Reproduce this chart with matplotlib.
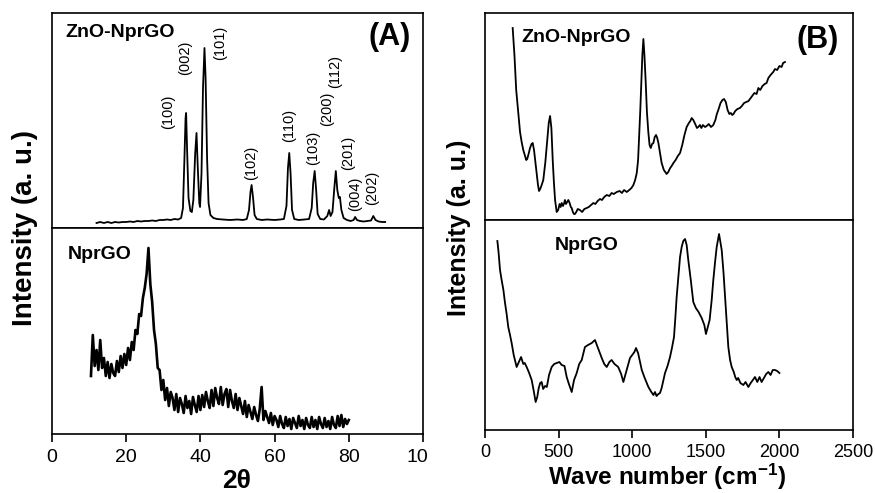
import numpy as np
import matplotlib
matplotlib.use("Agg")
import matplotlib.pyplot as plt
from matplotlib.transforms import Bbox, TransformedBbox

plt.rcParams['font.family'] = ['Liberation Sans', 'DejaVu Sans']
plt.rcParams['mathtext.fontset'] = 'custom'
plt.rcParams['mathtext.rm'] = 'Liberation Sans:bold'
plt.rcParams['mathtext.bf'] = 'Liberation Sans:bold'
plt.rcParams['mathtext.default'] = 'bf'

# ---------------- Panel A: XRD ----------------
xrd_zno_theta = [12, 13, 14, 15, 16, 17, 18, 19, 20, 21, 22, 23, 24, 25, 26, 27, 28, 29, 30, 31, 32, 33, 34,
                 34.8, 35.3, 35.7, 36.0, 36.15, 36.4, 36.8, 37.3, 37.7, 38.1, 38.6, 38.95, 39.3, 39.7, 39.9,
                 40.3, 40.7, 41.1, 41.4, 41.8, 42.2, 42.7, 43.5, 44.5, 46, 48, 50, 51.5, 52.5, 53.1, 53.5,
                 53.8, 54.2, 54.6, 55.2, 56.5, 58, 60, 61.5, 62.5, 63.2, 63.6, 63.95, 64.3, 64.7, 65.3, 66.5,
                 68, 69.3, 70.0, 70.4, 70.8, 71.2, 71.6, 72.3, 73.3, 74.2, 74.7, 75.1, 75.6, 76.1, 76.5, 76.9,
                 77.3, 77.6, 78.0, 78.6, 79.5, 80.5, 81.3, 81.7, 82.2, 83, 84, 85, 86, 86.6, 87.2, 88, 89, 89.8]
xrd_zno_int = [5, 6, 5, 6, 5, 6, 5.5, 6, 6, 6.5, 6, 7, 6.5, 7, 7, 7.5, 7, 8, 8, 8.5, 8, 9, 8.5,
               10, 20, 70, 110, 115, 80, 30, 17, 16, 28, 75, 95, 60, 25, 21,
               55, 140, 180, 150, 70, 25, 13, 10, 9, 8.5, 8, 8.5, 8, 9, 18, 36,
               43, 30, 13, 9, 8, 8.5, 8, 8.5, 9, 22, 60, 75, 55, 18, 9, 8,
               8.5, 9, 20, 45, 57, 38, 14, 9, 8.5, 12, 18, 12, 16, 40, 57, 38,
               30, 31, 18, 10, 8, 7, 8, 11, 8, 7, 6.5, 7, 7.5, 12, 8, 6.5, 6, 6]

hkl_labels = ['(100)', '(002)', '(101)', '(102)', '(110)', '(103)', '(200)', '(112)', '(201)', '(004)', '(202)']
hkl_theta = [31.3, 35.8, 45.3, 53.6, 63.9, 70.3, 74.1, 76.3, 79.8, 81.7, 86.3]
hkl_y = [116, 170, 185.5, 65.5, 103, 80.5, 119, 157, 75, 34, 40]

xrd_go_start, xrd_go_step = 10.5, 0.5
xrd_go_int = [58, 99, 68, 84, 64, 94, 66, 76, 58, 72,
              56, 70, 61, 58, 73, 62, 78, 66, 80, 69,
              86, 74, 92, 84, 104, 100, 120, 118, 136, 146,
              160, 186, 150, 132, 104, 90, 66, 64, 44, 54,
              34, 46, 28, 42, 36, 24, 40, 22, 36, 30,
              21, 38, 26, 33, 20, 37, 29, 22, 38, 24,
              39, 27, 42, 33, 26, 44, 28, 46, 36, 30,
              47, 29, 40, 45, 27, 44, 33, 26, 40, 24,
              36, 28, 20, 33, 17, 29, 22, 15, 27, 19,
              13, 25, 47, 14, 23, 17, 11, 21, 9, 18,
              14, 7, 18, 10, 6, 17, 8, 15, 5, 16,
              11, 6, 18, 8, 14, 5, 16, 9, 6, 17,
              7, 14, 5, 17, 10, 6, 16, 7, 13, 5,
              17, 9, 6, 18, 8, 19, 7, 15, 10, 14]
xrd_go_theta = xrd_go_start + xrd_go_step * np.arange(len(xrd_go_int))

a_ticks = [0, 20, 40, 60, 80, 100]
a_ticklabels = ['0', '20', '40', '60', '80', '100']

# ---------------- Panel B: Raman ----------------
raman_zno_w = [188, 200, 212, 226, 238, 249, 260, 272, 280, 287, 296, 306, 316, 324, 333, 342, 351, 360, 367,
               375, 385, 396, 410, 423, 433, 442, 451, 460, 468, 476, 487, 497, 507, 514, 521, 530, 538, 543,
               550, 558, 566, 575, 583, 589, 597, 604, 611, 620, 630, 645, 660, 675, 691, 705, 720, 736, 750,
               765, 781, 795, 810, 827, 845, 860, 875, 895, 915, 930, 945, 963, 980, 995, 1008, 1020, 1031,
               1040, 1048, 1055, 1062, 1069, 1076, 1083, 1092, 1100, 1110, 1118, 1126, 1135, 1144, 1153, 1162,
               1170, 1178, 1190, 1200, 1215, 1234, 1245, 1258, 1268, 1280, 1295, 1310, 1325, 1340, 1355, 1370,
               1385, 1395, 1404, 1415, 1428, 1440, 1449, 1460, 1470, 1480, 1495, 1506, 1520, 1535, 1551, 1565,
               1575, 1585, 1600, 1613, 1624, 1636, 1648, 1660, 1670, 1680, 1688, 1700, 1715, 1732, 1745, 1760,
               1775, 1790, 1800, 1815, 1830, 1845, 1857, 1870, 1885, 1900, 1913, 1925, 1940, 1958, 1970, 1985,
               2000, 2015, 2025, 2038]
raman_zno_int = [192, 165, 130, 107, 88, 78, 70, 64, 60, 61, 66, 72, 76, 77, 70, 58, 47, 35, 29,
                 31, 35, 40, 58, 80, 97, 104, 92, 60, 38, 20, 8, 10, 16, 13, 17, 14, 17, 20,
                 16, 18, 20, 17, 13, 12, 8, 6, 6, 8, 11, 10, 8, 11, 12, 13, 15, 17, 16,
                 19, 21, 20, 23, 25, 24, 27, 26, 28, 29, 27, 30, 28, 30, 32, 35, 40, 47,
                 60, 87, 110, 137, 165, 181, 165, 137, 108, 87, 75, 72, 76, 77, 83, 85,
                 82, 77, 66, 57, 50, 46, 48, 52, 54, 57, 60, 64, 67, 75, 85, 93,
                 97, 99, 102, 100, 96, 92, 93, 95, 92, 95, 93, 94, 96, 93, 95, 100,
                 106, 110, 117, 120, 121, 118, 110, 106, 107, 105, 106, 109, 111, 112, 114, 117,
                 118, 119, 121, 124, 127, 126, 132, 130, 134, 136, 137, 142, 145, 148, 151, 150,
                 154, 153, 157, 158]

raman_go_w = [84, 92, 102, 113, 125, 136, 147, 158, 170, 181, 195, 215, 230, 245, 260, 270, 283, 300, 317,
              330, 344, 355, 365, 375, 385, 395, 408, 420, 435, 453, 470, 487, 505, 521, 540, 555, 570, 589,
              605, 623, 640, 657, 679, 700, 725, 747, 770, 793, 810, 827, 845, 860, 880, 905, 925, 940, 955,
              970, 985, 1000, 1015, 1026, 1040, 1065, 1085, 1110, 1130, 1144, 1155, 1165, 1178, 1189, 1200,
              1223, 1240, 1257, 1270, 1284, 1293, 1302, 1313, 1325, 1336, 1347, 1359, 1370, 1381, 1398, 1415,
              1432, 1451, 1472, 1490, 1501, 1515, 1526, 1540, 1551, 1563, 1574, 1590, 1608, 1620, 1631, 1642,
              1653, 1665, 1676, 1690, 1700, 1710, 1720, 1735, 1755, 1770, 1789, 1805, 1820, 1834, 1850, 1865,
              1879, 1895, 1910, 1925, 1940, 1955, 1970, 1985, 2000]
raman_go_int = [189, 178, 160, 150, 140, 127, 116, 103, 95, 87, 75, 63, 68, 73, 66, 67, 63, 57, 50,
                40, 28, 33, 42, 47, 48, 41, 44, 43, 55, 63, 66, 67, 68, 65, 64, 53, 46, 38,
                50, 57, 66, 70, 83, 85, 87, 90, 81, 72, 66, 63, 68, 70, 66, 63, 56, 48, 56,
                64, 72, 75, 78, 82, 77, 60, 52, 43, 38, 35, 38, 34, 36, 37, 42,
                57, 64, 73, 82, 93, 112, 133, 152, 173, 183, 189, 191, 185, 170, 150, 128,
                122, 118, 112, 105, 96, 104, 110, 130, 150, 168, 183, 196, 180, 158, 133, 108,
                83, 70, 63, 58, 53, 50, 52, 47, 45, 48, 43, 47, 50, 53, 48, 53,
                48, 52, 56, 58, 55, 60, 60, 59, 57]

b_ticks = [0, 500, 1000, 1500, 2000, 2500]
b_ticklabels = ['0', '500', '1000', '1500', '2000', '2500']

# ---------------- Figure ----------------
W, H = 875, 493
fig = plt.figure(figsize=(W / 100, H / 100), dpi=100)


def axes_px(x0, y0, x1, y1):
    return fig.add_axes([x0 / W, 1 - y1 / H, (x1 - x0) / W, (y1 - y0) / H])


LW = 1.3
SPW = 1.2

axA1 = axes_px(52, 13, 423, 228)
axA2 = axes_px(52, 228, 423, 434)
axB1 = axes_px(485, 13, 853, 220)
axB2 = axes_px(485, 220, 853, 430)

for ax in (axA1, axA2, axB1, axB2):
    for s in ax.spines.values():
        s.set_linewidth(SPW)
        s.set_color('black')
    ax.set_yticks([])

axA1.plot(xrd_zno_theta, xrd_zno_int, color='black', lw=LW)
axA1.set_xlim(0, 100)
axA1.set_ylim(0, 215)
axA1.set_xticks([])
for lab, t, y in zip(hkl_labels, hkl_theta, hkl_y):
    axA1.text(t, y, lab, rotation=90, ha='center', va='center', fontsize=10.5)
axA1.text(0.035, 0.91, 'ZnO-NprGO', transform=axA1.transAxes, fontsize=14, fontweight='bold',
          ha='left', va='center')
axA1.text(0.968, 0.89, '(A)', transform=axA1.transAxes, fontsize=22, fontweight='bold',
          ha='right', va='center')

axA2.plot(xrd_go_theta, xrd_go_int, color='black', lw=1.9)
axA2.set_xlim(0, 100)
axA2.set_ylim(0, 206)
axA2.set_xticks(a_ticks)
axA2.set_xticklabels(a_ticklabels)
axA2.tick_params(axis='x', direction='out', length=6, width=1.2, labelsize=14, pad=5)
axA2.text(0.043, 0.87, 'NprGO', transform=axA2.transAxes, fontsize=14, fontweight='bold',
          ha='left', va='center')

axB1.plot(raman_zno_w, raman_zno_int, color='black', lw=LW)
axB1.set_xlim(0, 2500)
axB1.set_ylim(0, 207)
axB1.set_xticks([])
axB1.text(0.10, 0.88, 'ZnO-NprGO', transform=axB1.transAxes, fontsize=14, fontweight='bold',
          ha='left', va='center')
axB1.text(0.96, 0.87, '(B)', transform=axB1.transAxes, fontsize=22, fontweight='bold',
          ha='right', va='center')

axB2.plot(raman_go_w, raman_go_int, color='black', lw=LW)
axB2.set_xlim(0, 2500)
axB2.set_ylim(0, 210)
axB2.set_xticks(b_ticks)
axB2.set_xticklabels(b_ticklabels)
axB2.tick_params(axis='x', direction='out', length=6, width=1.2, labelsize=13, pad=4)
axB2.text(0.19, 0.88, 'NprGO', transform=axB2.transAxes, fontsize=14, fontweight='bold',
          ha='left', va='center')

# axis titles
fig.text(25 / W, 1 - 228 / H, 'Intensity (a. u.)', rotation=90, ha='center', va='center',
         fontsize=20, fontweight='bold')
fig.text(459 / W, 1 - 228 / H, 'Intensity (a. u.)', rotation=90, ha='center', va='center',
         fontsize=18, fontweight='bold')
fig.text(237 / W, 1 - 481 / H, '2θ', ha='center', va='center', fontsize=19, fontweight='bold')
fig.text(667 / W, 1 - 477 / H, 'Wave number (cm$^{-1}$)', ha='center', va='center',
         fontsize=17.5, fontweight='bold')

# the last tick label of panel A is cut off by panel B in the original
clip = TransformedBbox(Bbox([[0, 0], [428 / W, 1]]), fig.transFigure)
last = axA2.get_xticklabels()[-1]
last.set_clip_box(clip)
last.set_clip_on(True)

fig.savefig('out.png', dpi=100)
